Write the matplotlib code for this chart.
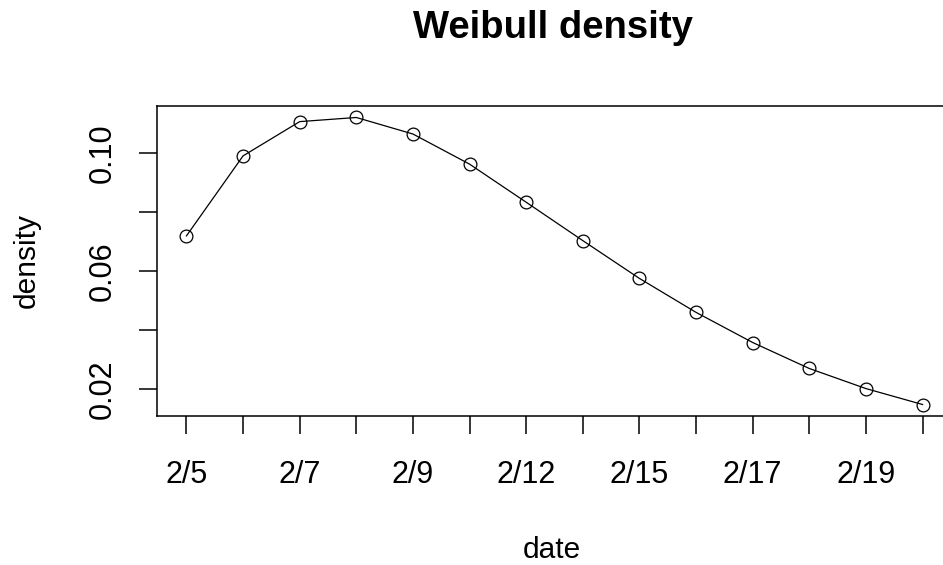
import matplotlib
matplotlib.use("Agg")
import matplotlib.pyplot as plt

# Data
date_labels = ["2/5", "2/6", "2/7", "2/8", "2/9", "2/10", "2/12",
               "2/13", "2/15", "2/16", "2/17", "2/18", "2/19", "2/20"]
density = [0.0719, 0.0990, 0.1106, 0.1120, 0.1064, 0.0962, 0.0833,
           0.0703, 0.0575, 0.0460, 0.0358, 0.0270, 0.0202, 0.0148]
y_ticks = [0.02, 0.04, 0.06, 0.08, 0.10]
y_tick_labels = ["0.02", "", "0.06", "", "0.10"]

plt.rcParams['font.family'] = ['Liberation Sans', 'DejaVu Sans']

W, H = 943, 565
fig = plt.figure(figsize=(W / 100, H / 100), dpi=100)
ax = fig.add_axes([157 / W, (H - 416) / H, 795 / W, 310 / H])

x = list(range(1, len(density) + 1))
ax.plot(x, density, color='black', linewidth=0.9, marker='o',
        markersize=9.2, markerfacecolor='none', markeredgecolor='black',
        markeredgewidth=0.9)

n = len(x)
ax.set_xlim(1 - 0.04 * (n - 1), n + 0.04 * (n - 1))
ymin, ymax = min(density), max(density)
r = ymax - ymin
ax.set_ylim(ymin - 0.04 * r, ymax + 0.04 * r)

ax.set_xticks(x)
ax.set_xticklabels([lab if i % 2 == 0 else "" for i, lab in enumerate(date_labels)])
ax.set_yticks(y_ticks)
ax.set_yticklabels(y_tick_labels, rotation=90, va='center', ha='right')

for s in ax.spines.values():
    s.set_linewidth(1.1)

ax.tick_params(axis='both', direction='out', length=13, width=1.1,
               labelsize=22, color='black')
ax.tick_params(axis='x', pad=19)
ax.tick_params(axis='y', pad=15.5)

ax.set_xlabel("date", fontsize=21.5, va='baseline')
ax.xaxis.set_label_coords((552 - 157) / 795, (416 - 558) / 310)
ax.set_ylabel("density", fontsize=21.5, va='center', ha='center')
ax.yaxis.set_label_coords((27 - 157) / 795, 0.5)

fig.text(553 / W, 1 - 38 / H, "Weibull density", fontsize=27.5,
         fontweight='bold', ha='center', va='baseline')

fig.savefig("out.png", dpi=100)
